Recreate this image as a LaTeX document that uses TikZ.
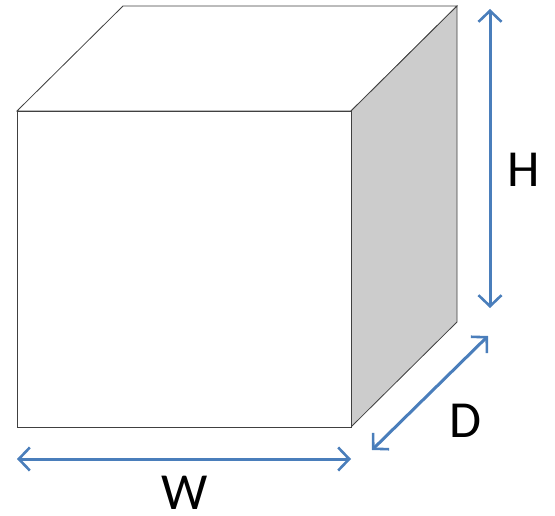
\documentclass[tikz,border=0pt]{standalone}
\usepackage{fontspec}
\setmainfont{Carlito}
\usetikzlibrary{arrows.meta}
\definecolor{dimblue}{HTML}{4A7EBB}

\begin{document}
\begin{tikzpicture}[
  x=1pt, y=-1pt,
  edge/.style={draw=black!75, line width=0.8pt},
  side/.style={edge, fill=black!20},
  dim/.style={{Straight Barb[length=11pt,width=23pt,line width=2.6pt]}-{Straight Barb[length=11pt,width=23pt,line width=2.6pt]}, draw=dimblue, line width=3pt},
  lbl/.style={font=\fontsize{52}{52}\selectfont, inner sep=0pt}
]
\useasboundingbox (0,0) rectangle (555,516);

% cube corners
\coordinate (ftl) at (17,111);
\coordinate (ftr) at (351,111);
\coordinate (fbl) at (17,427);
\coordinate (fbr) at (351,427);
\coordinate (btl) at (123,6);
\coordinate (btr) at (457,6);
\coordinate (bbr) at (457,322);

% faces
\draw[edge, fill=white] (ftl) -- (btl) -- (btr) -- (ftr) -- cycle;
\draw[side] (ftr) -- (btr) -- (bbr) -- (fbr) -- cycle;
\draw[edge, fill=white] (ftl) -- (ftr) -- (fbr) -- (fbl) -- cycle;

% dimension ends
\coordinate (h1) at (490,9);
\coordinate (h2) at (490,308);
\coordinate (d1) at (372,450);
\coordinate (d2) at (488,336);
\coordinate (w1) at (17,459);
\coordinate (w2) at (351,459);

\draw[dim] (h1) -- (h2);
\draw[dim] (d1) -- (d2);
\draw[dim] (w1) -- (w2);

\node[lbl] (H) at (524,170) {H};
\node[lbl] (D) at (465,421) {D};
\node[lbl] (W) at (185,493) {W};
\end{tikzpicture}
\end{document}
